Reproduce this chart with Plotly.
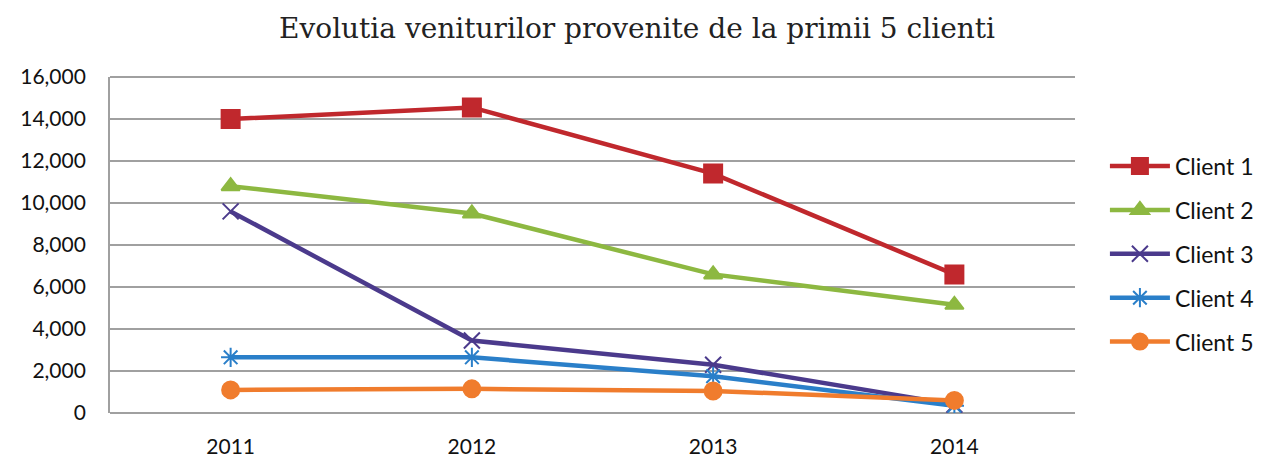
import plotly.graph_objects as go

years = ["2011", "2012", "2013", "2014"]
client1 = [14000, 14550, 11400, 6600]
client2 = [10800, 9500, 6600, 5150]
client3 = [9600, 3450, 2300, 400]
client4 = [2650, 2650, 1750, 350]
client5 = [1100, 1150, 1050, 600]

names = ["Client 1", "Client 2", "Client 3", "Client 4", "Client 5"]
series = [client1, client2, client3, client4, client5]
colors = ["#C0282D", "#8DB841", "#4B3A8C", "#2A7FC9", "#F07C2D"]
symbols = ["square", "triangle-up", "x-thin-open", "asterisk-open", "circle"]
sizes = [18, 16, 16, 16, 17]

fig = go.Figure()
for n, s, c, sym, sz in zip(names, series, colors, symbols, sizes):
    fig.add_trace(go.Scatter(
        x=years, y=s, name=n, mode="lines+markers", legendgroup=n,
        line=dict(color=c, width=4.5),
        marker=dict(symbol=sym, size=sz, color=c, line=dict(color=c, width=2)),
    ))

fig.update_layout(
    width=1258, height=451,
    margin=dict(l=102, r=191, t=69, b=46, autoexpand=False),
    paper_bgcolor="white", plot_bgcolor="white",
    title=dict(text="Evolutia veniturilor provenite de la primii 5 clienti",
               x=0.5, xanchor="center", y=0.956, yanchor="middle",
               font=dict(family="DejaVu Serif", size=28, color="#222")),
    font=dict(family="Lato", size=21, color="#111"),
    showlegend=True,
    legend=dict(x=1.031, xanchor="left", y=0.473, yanchor="middle",
                tracegroupgap=11, itemwidth=60,
                font=dict(family="Lato", size=23, color="#111")),
    xaxis=dict(type="category", range=[-0.5, 3.5], showgrid=False,
               showline=False, ticks="", ticklabelstandoff=19,
               automargin=False, tickfont=dict(size=21)),
    yaxis=dict(range=[0, 16000], dtick=2000, tickformat=",", showgrid=True,
               gridcolor="#A0A0A0", gridwidth=1.8, zeroline=True,
               zerolinecolor="#A0A0A0", zerolinewidth=1.8,
               showline=True, linecolor="#A0A0A0", linewidth=1.8,
               automargin=False,
               ticks="", ticklabelstandoff=18, tickfont=dict(size=21)),
)
fig.add_shape(type="line", xref="paper", yref="paper", x0=0, x1=1, y0=1, y1=1,
              line=dict(color="#A0A0A0", width=1.8), layer="below")

fig.write_html("out.html")
